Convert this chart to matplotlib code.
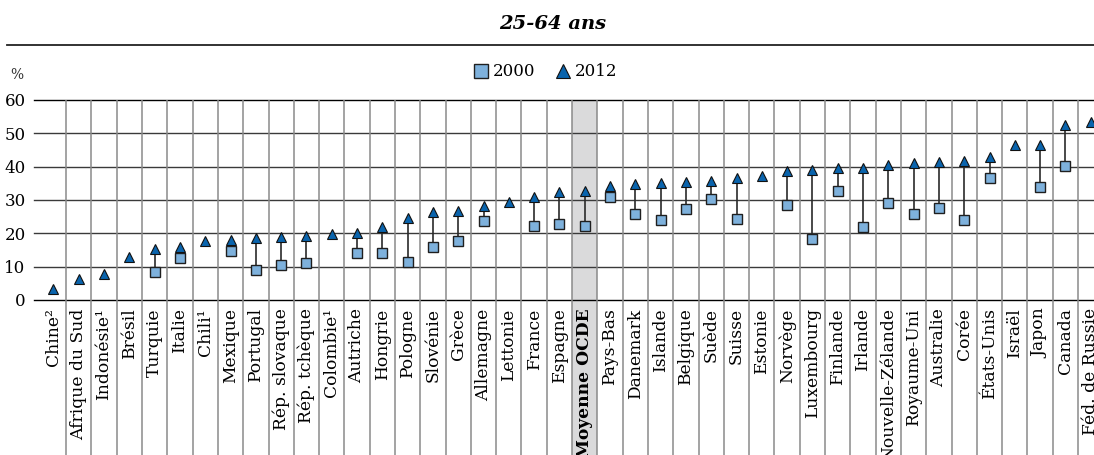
import numpy as np
import matplotlib.pyplot as plt
from matplotlib.transforms import blended_transform_factory

plt.rcParams['font.family'] = ['DejaVu Serif']

countries = ['Chine²', 'Afrique du Sud', 'Indonésie¹', 'Brésil', 'Turquie', 'Italie', 'Chili¹',
             'Mexique', 'Portugal', 'Rép. slovaque', 'Rép. tchèque', 'Colombie¹', 'Autriche',
             'Hongrie', 'Pologne', 'Slovénie', 'Grèce', 'Allemagne', 'Lettonie', 'France',
             'Espagne', 'Moyenne OCDE', 'Pays-Bas', 'Danemark', 'Islande', 'Belgique', 'Suède',
             'Suisse', 'Estonie', 'Norvège', 'Luxembourg', 'Finlande', 'Irlande',
             'Nouvelle-Zélande', 'Royaume-Uni', 'Australie', 'Corée', 'États-Unis', 'Israël',
             'Japon', 'Canada', 'Féd. de Russie']

# 2000 values (nan = not available)
val_2000 = [np.nan, np.nan, np.nan, np.nan, 8.5, 12.5, np.nan,
            14.8, 9.0, 10.5, 11.0, np.nan, 14.0,
            14.2, 11.5, 15.8, 17.7, 23.6, np.nan, 22.3,
            22.8, 22.3, 30.9, 25.9, 23.9, 27.3, 30.3,
            24.3, np.nan, 28.5, 18.4, 32.8, 21.9,
            29.0, 25.9, 27.6, 24.1, 36.6, np.nan,
            33.8, 40.2, np.nan]

val_2012 = [3.4, 6.3, 7.8, 13.0, 15.2, 15.8, 17.8,
            18.0, 18.5, 19.0, 19.3, 19.8, 20.0,
            22.0, 24.6, 26.4, 26.6, 28.1, 29.3, 30.9,
            32.3, 32.6, 34.3, 34.8, 35.1, 35.3, 35.8,
            36.6, 37.1, 38.6, 39.1, 39.6, 39.6,
            40.5, 41.0, 41.3, 41.7, 43.0, 46.4,
            46.6, 52.5, 53.3]

oecd_label = 'Moyenne OCDE'

x = np.arange(len(countries))
a = np.array(val_2000)
b = np.array(val_2012)

fig = plt.figure(figsize=(10.94, 4.55), dpi=100)
ax = fig.add_axes([34/1094, 155/455, 1 - 34/1094, 200/455])

ax.set_xlim(-0.77, 41.13)
ax.set_ylim(0, 60)

trans = blended_transform_factory(ax.transData, ax.transAxes)

# shaded OECD column, running through the label area
i_oecd = countries.index(oecd_label)
ax.axvspan(i_oecd - 0.5, i_oecd + 0.5, ymin=-0.8, ymax=1, color='#dadadb',
           clip_on=False, zorder=0, lw=0)

# horizontal grid
for yv in range(0, 61, 10):
    c = 'black' if yv in (0, 60) else '#3a3a3a'
    ax.axhline(yv, color=c, lw=1.0, zorder=1, clip_on=False)

# column separators down to the bottom of the figure
ax.vlines(x[:-1] + 0.5, -0.8, 1, transform=trans, colors='#8a8a8a', lw=1.1,
          clip_on=False, zorder=1)

# connecting lines
for xi, lo, hi in zip(x, a, b):
    if not np.isnan(lo):
        ax.plot([xi, xi], [lo, hi], color='#2a2a2a', lw=1.2, zorder=2)

ax.plot(x, a, 's', ms=6.8, mfc='#7eb1dc', mec='#1f1f1f', mew=1, zorder=3,
        label='2000', clip_on=False)
ax.plot(x, b, '^', ms=7.5, mfc='#0a64ad', mec='#111111', mew=0.8, zorder=4,
        label='2012', clip_on=False)

for s in ax.spines.values():
    s.set_visible(False)

ax.set_yticks(range(0, 61, 10))
ax.tick_params(axis='y', length=0, pad=6, labelsize=12)
ax.set_xticks(x)
ax.set_xticklabels(countries, rotation=90, fontsize=12.3, va='top', ha='center')
ax.tick_params(axis='x', length=0, pad=6)
for lab in ax.get_xticklabels():
    if lab.get_text() == oecd_label:
        lab.set_fontweight('bold')

fig.text(17/1094, 1 - 75/455, '%', fontsize=10, ha='center', va='center', color='#333333')

fig.legend(loc='center', bbox_to_anchor=(545/1094, 1 - 72/455), ncol=2, frameon=False,
           fontsize=12, handletextpad=0.2, columnspacing=1.2, markerscale=1.4,
           handlelength=1.0)

fig.text(553/1094, 1 - 24/455, '25-64 ans', fontsize=14, fontweight='bold',
         style='italic', ha='center', va='center')
fig.add_artist(plt.Line2D([7/1094, 1], [1 - 45/455, 1 - 45/455], color='#222222', lw=1.3))

fig.savefig('out.png', dpi=100)
